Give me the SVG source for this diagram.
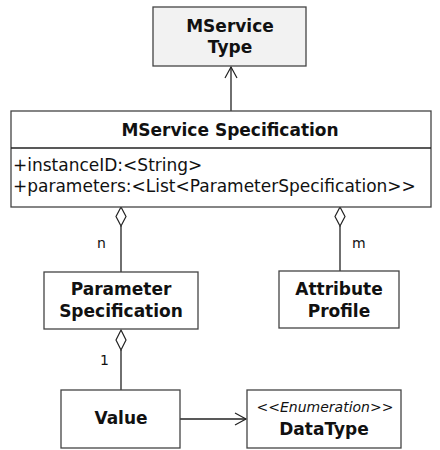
<svg xmlns="http://www.w3.org/2000/svg" width="440" height="450" viewBox="0 0 440 450">
<style>
.box{fill:#fff;stroke:#444;stroke-width:1.3}
.gray{fill:#f2f2f2}
.t{font-family:"DejaVu Sans",Verdana,sans-serif;font-size:17px;fill:#111}
.b{font-weight:bold;text-anchor:middle}
.lbl{font-size:14px}
.ln{fill:none;stroke:#222;stroke-width:1.3}
.dia{fill:#fff;stroke:#222;stroke-width:1.2}
.it{font-style:italic;font-size:14px;text-anchor:middle}
</style>
<defs>
<marker id="open" markerWidth="14" markerHeight="14" refX="12" refY="7" orient="auto" markerUnits="userSpaceOnUse">
<path d="M1,1 L12,7 L1,13" fill="none" stroke="#222" stroke-width="1.2"/>
</marker>
</defs>
<rect width="440" height="450" fill="#fff"/>
<g id="connectors">
<line class="ln" x1="231" y1="112" x2="231" y2="67" marker-end="url(#open)"/>
<line class="ln" x1="121" y1="226" x2="121" y2="272"/>
<path class="dia" d="M121,207 L126,216.5 L121,226 L116,216.5 Z"/>
<line class="ln" x1="340" y1="226" x2="340" y2="271"/>
<path class="dia" d="M340,207 L345,216.5 L340,226 L335,216.5 Z"/>
<line class="ln" x1="121" y1="350" x2="121" y2="390"/>
<path class="dia" d="M121,330 L126,340 L121,350 L116,340 Z"/>
<line class="ln" x1="180" y1="419" x2="246" y2="419" marker-end="url(#open)"/>
<text class="t lbl" x="97" y="248">n</text>
<text class="t lbl" x="352" y="248">m</text>
<text class="t lbl" x="100" y="365">1</text>
</g>
<g id="mservice-type">
<rect class="box gray" x="153" y="7" width="153" height="59"/>
<text class="t b" x="230" y="32">MService</text>
<text class="t b" x="230" y="53">Type</text>
</g>
<g id="mservice-spec">
<rect class="box" x="11" y="111" width="420" height="96"/>
<line class="ln" x1="11" y1="148" x2="431" y2="148"/>
<text class="t b" x="230" y="136">MService Specification</text>
<text class="t" x="13" y="171">+instanceID:&lt;String&gt;</text>
<text class="t" x="13" y="192">+parameters:&lt;List&lt;ParameterSpecification&gt;&gt;</text>
</g>
<g id="parameter-spec">
<rect class="box" x="44" y="272" width="154" height="57"/>
<text class="t b" x="121" y="295">Parameter</text>
<text class="t b" x="121" y="317">Specification</text>
</g>
<g id="attribute-profile">
<rect class="box" x="279" y="271" width="120" height="57"/>
<text class="t b" x="339" y="295">Attribute</text>
<text class="t b" x="339" y="317">Profile</text>
</g>
<g id="value">
<rect class="box" x="61" y="390" width="119" height="58"/>
<text class="t b" x="121" y="424">Value</text>
</g>
<g id="datatype">
<rect class="box" x="247" y="390" width="154" height="58"/>
<text class="t it" x="325" y="412">&lt;&lt;Enumeration&gt;&gt;</text>
<text class="t b" x="324" y="435">DataType</text>
</g>
</svg>
